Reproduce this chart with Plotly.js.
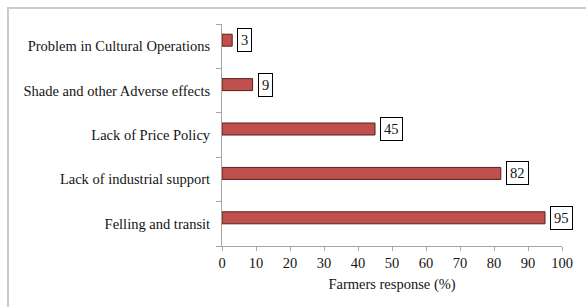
<!DOCTYPE html>
<html>
<head>
<meta charset="utf-8">
<script src="https://cdn.plot.ly/plotly-3.0.1.min.js"></script>
<style>
html,body{margin:0;padding:0;background:#fff;overflow:hidden;}
#wrap{position:relative;width:586px;height:307px;overflow:hidden;}
#chart{position:absolute;left:0;top:0;width:586px;height:307px;}
#frame{position:absolute;left:7px;top:7px;width:700px;height:400px;border-top:2px solid #cbcbcb;border-left:2px solid #cbcbcb;pointer-events:none;}
</style>
</head>
<body>
<div id="wrap">
<div id="chart"></div>
<div id="frame"></div>
</div>
<script>
// Categories listed bottom to top (as Plotly draws them)
const categories = [
  "Felling and transit",
  "Lack of industrial support",
  "Lack of Price Policy",
  "Shade and other Adverse effects",
  "Problem in Cultural Operations"
];
const responses = [95, 82, 45, 9, 3];
const xTickValues = [0, 10, 20, 30, 40, 50, 60, 70, 80, 90, 100];
const xAxisTitle = "Farmers response (%)";

const FONT = "Liberation Serif, Times New Roman, serif";
const FS = 14.5;
const TXT = "#141414";

const trace = {
  type: "bar",
  orientation: "h",
  x: responses,
  y: categories,
  width: 0.27,
  offset: 0,
  marker: {color: "#c0504d", line: {color: "#5a1e1c", width: 1}},
  hoverinfo: "x+y"
};

const annotations = responses.map((v, i) => ({
  x: v,
  y: categories[i],
  xref: "x",
  yref: "y",
  text: String(v),
  showarrow: false,
  xanchor: "left",
  yanchor: "middle",
  xshift: 5,
  yshift: 6,
  bordercolor: "#000",
  borderwidth: 1,
  borderpad: 3,
  bgcolor: "#fff",
  font: {family: FONT, size: FS, color: TXT}
}));

const L = 222, R = 562, T = 24, B = 246;

const layout = {
  width: 586,
  height: 307,
  margin: {l: L, r: 586 - R, t: T, b: 307 - B, pad: 0},
  paper_bgcolor: "rgba(0,0,0,0)",
  plot_bgcolor: "rgba(0,0,0,0)",
  showlegend: false,
  font: {family: FONT, size: FS, color: TXT},
  xaxis: {
    range: [0, 100],
    tickvals: xTickValues,
    ticktext: xTickValues.map(String),
    showgrid: false,
    zeroline: false,
    showline: true,
    linecolor: "#a6a6a6",
    linewidth: 1,
    ticks: "outside",
    ticklen: 4,
    tickcolor: "#a6a6a6",
    tickfont: {family: FONT, size: FS, color: TXT},
    title: {text: xAxisTitle, font: {family: FONT, size: FS, color: TXT}, standoff: 8},
    fixedrange: true
  },
  yaxis: {
    type: "category",
    categoryorder: "array",
    categoryarray: categories,
    showgrid: false,
    zeroline: false,
    showline: true,
    linecolor: "#a6a6a6",
    linewidth: 1,
    ticks: "outside",
    tickson: "boundaries",
    ticklen: 5,
    tickcolor: "#a6a6a6",
    ticklabelstandoff: 8,
    tickfont: {family: FONT, size: FS, color: TXT},
    fixedrange: true
  },
  annotations: annotations
};

Plotly.newPlot("chart", [trace], layout, {displayModeBar: false, staticPlot: true});
</script>
</body>
</html>
